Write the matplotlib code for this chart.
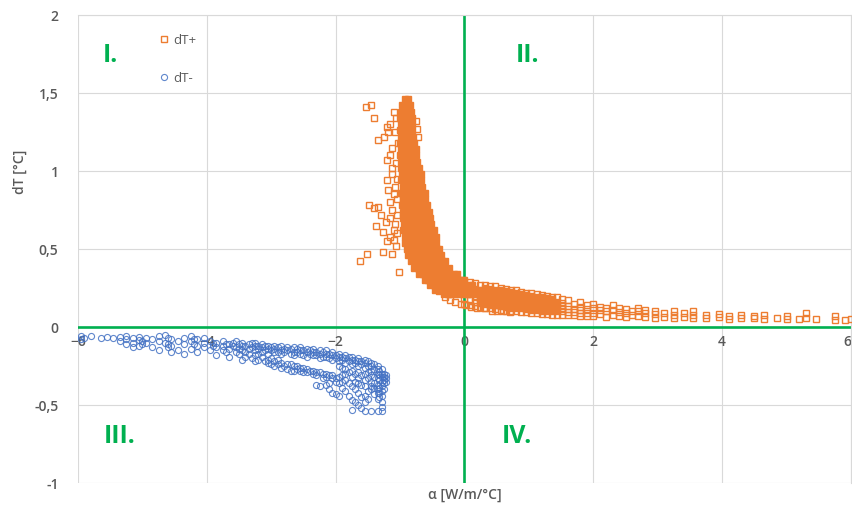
import matplotlib
matplotlib.use("Agg")
import matplotlib.pyplot as plt

# dT+ : dense core of the cloud, read row by row (dT level -> alpha values)
core_dT = [1.46, 1.42, 1.38, 1.34, 1.30, 1.26, 1.22, 1.18, 1.14, 1.10, 1.06,
           1.02, 0.98, 0.94, 0.90, 0.86, 0.82, 0.78, 0.74, 0.70, 0.66, 0.62,
           0.58, 0.54, 0.50, 0.46, 0.42, 0.38, 0.34, 0.30, 0.27, 0.24, 0.21]
core_alpha = [
    [-0.92, -0.87],
    [-0.97, -0.91, -0.85],
    [-0.99, -0.93, -0.87, -0.83],
    [-1.00, -0.94, -0.88, -0.82],
    [-0.98, -0.92, -0.86, -0.81],
    [-1.00, -0.94, -0.88, -0.82],
    [-0.98, -0.92, -0.86, -0.80],
    [-1.00, -0.94, -0.88, -0.82, -0.78],
    [-0.98, -0.92, -0.86, -0.80, -0.76],
    [-1.00, -0.94, -0.88, -0.82, -0.76],
    [-0.98, -0.92, -0.86, -0.80, -0.74],
    [-0.99, -0.93, -0.87, -0.81, -0.75, -0.70],
    [-0.97, -0.91, -0.85, -0.79, -0.73, -0.68],
    [-0.98, -0.92, -0.86, -0.80, -0.74, -0.68],
    [-0.96, -0.90, -0.84, -0.78, -0.72, -0.66],
    [-0.98, -0.92, -0.86, -0.80, -0.74, -0.68, -0.62],
    [-0.96, -0.90, -0.84, -0.78, -0.72, -0.66, -0.61],
    [-0.97, -0.91, -0.85, -0.79, -0.73, -0.67, -0.61, -0.58],
    [-0.95, -0.89, -0.83, -0.77, -0.71, -0.65, -0.59, -0.55],
    [-0.96, -0.90, -0.84, -0.78, -0.72, -0.66, -0.60, -0.54],
    [-0.94, -0.88, -0.82, -0.76, -0.70, -0.64, -0.58, -0.52],
    [-0.95, -0.89, -0.83, -0.77, -0.71, -0.65, -0.59, -0.53, -0.48],
    [-0.93, -0.87, -0.81, -0.75, -0.69, -0.63, -0.57, -0.51, -0.45],
    [-0.92, -0.86, -0.80, -0.74, -0.68, -0.62, -0.56, -0.50, -0.44],
    [-0.90, -0.84, -0.78, -0.72, -0.66, -0.60, -0.54, -0.48, -0.42, -0.39],
    [-0.87, -0.81, -0.75, -0.69, -0.63, -0.57, -0.51, -0.45, -0.39, -0.36],
    [-0.83, -0.77, -0.71, -0.65, -0.59, -0.53, -0.47, -0.41, -0.35, -0.30],
    [-0.78, -0.72, -0.66, -0.60, -0.54, -0.48, -0.42, -0.36, -0.30, -0.24],
    [-0.70, -0.64, -0.58, -0.52, -0.46, -0.40, -0.34, -0.28, -0.22, -0.16, -0.12],
    [-0.62, -0.56, -0.50, -0.44, -0.38, -0.32, -0.26, -0.20, -0.14, -0.08, -0.02],
    [-0.54, -0.48, -0.42, -0.36, -0.30, -0.24, -0.18, -0.12, -0.06, 0.00, 0.06, 0.12],
    [-0.46, -0.40, -0.34, -0.28, -0.22, -0.16, -0.10, -0.04, 0.02, 0.08, 0.14, 0.20, 0.26],
    [-0.32, -0.26, -0.20, -0.14, -0.08, -0.02, 0.04, 0.10, 0.16, 0.22, 0.28, 0.34, 0.40],
]

# dT+ : tail towards positive alpha, read column by column (alpha -> dT values)
tail_alpha = [0.00, 0.08, 0.16, 0.24, 0.32, 0.40, 0.48, 0.56, 0.64, 0.72, 0.80,
              0.88, 0.96, 1.04, 1.12, 1.20, 1.28, 1.36, 1.44, 1.52, 1.60, 1.70,
              1.80, 1.90, 2.00, 2.10, 2.20, 2.30, 2.40, 2.50, 2.60, 2.70, 2.80,
              2.95, 3.10, 3.25, 3.40, 3.55, 3.75, 3.95, 4.10, 4.30, 4.50, 4.65,
              4.85, 5.00, 5.20, 5.30, 5.45, 5.75, 5.90, 6.00]
tail_dT = [
    [0.15, 0.18, 0.30],
    [0.14, 0.17, 0.29],
    [0.135, 0.16, 0.19, 0.28],
    [0.13, 0.155, 0.18, 0.205, 0.27],
    [0.125, 0.15, 0.175, 0.20, 0.225, 0.25, 0.27],
    [0.12, 0.145, 0.17, 0.195, 0.22, 0.245, 0.265],
    [0.115, 0.14, 0.165, 0.19, 0.215, 0.24, 0.26],
    [0.11, 0.135, 0.16, 0.185, 0.21, 0.235, 0.25],
    [0.105, 0.13, 0.155, 0.18, 0.205, 0.23, 0.245],
    [0.10, 0.125, 0.15, 0.175, 0.20, 0.225, 0.24],
    [0.10, 0.12, 0.145, 0.17, 0.195, 0.22, 0.235],
    [0.095, 0.12, 0.14, 0.165, 0.19, 0.21, 0.225],
    [0.095, 0.115, 0.135, 0.16, 0.185, 0.205, 0.22],
    [0.09, 0.11, 0.135, 0.155, 0.18, 0.20, 0.215],
    [0.09, 0.11, 0.13, 0.15, 0.175, 0.195, 0.21],
    [0.085, 0.105, 0.125, 0.15, 0.17, 0.19, 0.205],
    [0.085, 0.105, 0.125, 0.145, 0.165, 0.185, 0.20],
    [0.08, 0.10, 0.12, 0.14, 0.16, 0.18, 0.195],
    [0.08, 0.10, 0.12, 0.14, 0.16, 0.19],
    [0.08, 0.10, 0.12, 0.135, 0.155, 0.18],
    [0.075, 0.095, 0.115, 0.135, 0.17],
    [0.075, 0.095, 0.115, 0.15],
    [0.07, 0.09, 0.11, 0.13, 0.16],
    [0.07, 0.09, 0.115, 0.14],
    [0.07, 0.09, 0.12, 0.15],
    [0.085, 0.11, 0.13],
    [0.065, 0.10, 0.12],
    [0.08, 0.11, 0.14],
    [0.07, 0.095, 0.12],
    [0.065, 0.09, 0.115],
    [0.08, 0.105],
    [0.07, 0.10, 0.12],
    [0.065, 0.09, 0.11],
    [0.06, 0.085, 0.105],
    [0.065, 0.09],
    [0.06, 0.08, 0.10],
    [0.065, 0.09],
    [0.06, 0.08, 0.10],
    [0.06, 0.075],
    [0.065, 0.085],
    [0.05, 0.07],
    [0.06, 0.08],
    [0.055, 0.07],
    [0.05, 0.075],
    [0.06],
    [0.05, 0.07],
    [0.05],
    [0.09, 0.06],
    [0.05],
    [0.045, 0.07],
    [0.045],
    [0.05],
]

# dT+ : isolated points around the cloud
stray_alpha = [-1.53, -1.45, -1.40, -1.35, -1.21, -1.18, -1.25, -1.15, -1.21, -1.15,
               -1.20, -1.13, -1.18, -1.10, -1.15, -1.48, -1.40, -1.35, -1.30, -1.37,
               -1.27, -1.22, -1.15, -1.10, -1.63, -1.51, -1.27, -1.13, -1.07, -1.01,
               -1.10, -1.20, -0.76, -0.74, -0.72, -0.60, -0.39, -0.30, -0.22, -0.14,
               -0.06, 0.02, 0.10, 0.20, 0.30, 0.43, 0.50, 0.60, 0.70,
               -1.08, -1.12, -1.07, -1.12, -1.05, -1.08, -1.05, -1.12, -1.05, -1.08,
               -1.05, -1.15, -1.04, -1.06, -1.10]
stray_dT = [1.41, 1.42, 1.34, 1.20, 1.28, 1.25, 1.22, 1.30, 1.07, 1.10,
            0.94, 0.98, 0.88, 0.85, 0.80, 0.78, 0.76, 0.77, 0.72, 0.65,
            0.61, 0.67, 0.70, 0.62, 0.42, 0.47, 0.48, 0.47, 0.52, 0.35,
            0.56, 0.55, 1.32, 1.27, 1.22, 0.76, 0.23, 0.19, 0.17, 0.16,
            0.15, 0.14, 0.13, 0.125, 0.12, 0.10, 0.105, 0.10, 0.095,
            1.25, 1.15, 1.05, 1.02, 0.95, 0.90, 0.82, 0.75, 0.72, 0.66,
            0.60, 0.58, 1.18, 1.34, 1.38]

# dT- : read column by column (alpha -> dT values)
neg_alpha = [-5.95, -5.90, -5.65, -5.55, -5.45, -5.35, -5.25, -5.15, -5.05, -4.95,
             -4.85, -4.75, -4.65, -4.55, -4.45, -4.35, -4.25, -4.15, -4.05, -3.95,
             -3.85, -3.75, -3.65, -3.55, -3.45, -3.35, -3.25, -3.15, -3.05, -2.95,
             -2.85, -2.75, -2.65, -2.55, -2.45, -2.35, -2.25, -2.15, -2.05, -1.95,
             -1.85, -1.75, -1.65, -1.55, -1.45, -1.35, -1.28, -1.22]
neg_dT = [
    [-0.06, -0.08],
    [-0.07],
    [-0.07],
    [-0.065],
    [-0.07],
    [-0.065, -0.09],
    [-0.06, -0.08, -0.11],
    [-0.07, -0.10, -0.13],
    [-0.065, -0.085, -0.12],
    [-0.07, -0.10],
    [-0.08, -0.13],
    [-0.06, -0.09, -0.15],
    [-0.05, -0.10],
    [-0.08, -0.12, -0.16],
    [-0.09, -0.15],
    [-0.07, -0.11, -0.17],
    [-0.06, -0.09, -0.14],
    [-0.08, -0.12, -0.16],
    [-0.07, -0.10, -0.13],
    [-0.09, -0.15],
    [-0.10, -0.13, -0.18],
    [-0.09, -0.12, -0.15],
    [-0.11, -0.14, -0.19],
    [-0.09, -0.13, -0.16],
    [-0.10, -0.12, -0.15, -0.21],
    [-0.11, -0.14, -0.17],
    [-0.10, -0.12, -0.15, -0.18, -0.22],
    [-0.11, -0.13, -0.16, -0.19],
    [-0.12, -0.14, -0.17, -0.21, -0.23],
    [-0.12, -0.14, -0.16, -0.22, -0.25],
    [-0.12, -0.15, -0.17, -0.23, -0.26],
    [-0.13, -0.15, -0.24, -0.27],
    [-0.13, -0.16, -0.18, -0.25, -0.28],
    [-0.13, -0.15, -0.17, -0.26, -0.28],
    [-0.14, -0.16, -0.19, -0.27, -0.29],
    [-0.14, -0.16, -0.18, -0.28, -0.30],
    [-0.15, -0.17, -0.20, -0.29, -0.38],
    [-0.15, -0.17, -0.19, -0.30, -0.32, -0.37],
    [-0.16, -0.18, -0.21, -0.31, -0.33, -0.42],
    [-0.17, -0.19, -0.22, -0.25, -0.32, -0.36, -0.44],
    [-0.18, -0.20, -0.23, -0.27, -0.30, -0.34, -0.41],
    [-0.19, -0.21, -0.24, -0.28, -0.32, -0.38, -0.47, -0.53],
    [-0.20, -0.22, -0.25, -0.29, -0.33, -0.36, -0.42, -0.50],
    [-0.21, -0.23, -0.26, -0.30, -0.34, -0.38, -0.44, -0.48, -0.54],
    [-0.23, -0.25, -0.28, -0.31, -0.35, -0.38, -0.40, -0.54],
    [-0.25, -0.27, -0.30, -0.33, -0.37, -0.40, -0.42, -0.46, -0.54],
    [-0.27, -0.30, -0.32, -0.35, -0.38, -0.41, -0.44, -0.48, -0.51, -0.54],
    [-0.31, -0.33, -0.35],
]

# dT- : second pass of points between the columns above
neg_alpha_b = [-5.80, -5.00, -4.60, -4.20, -3.90, -3.70, -3.60, -3.50, -3.40, -3.30,
               -3.20, -3.10, -3.00, -2.90, -2.80, -2.70, -2.60, -2.50, -2.40, -2.30,
               -2.20, -2.10, -2.00, -1.90, -1.80, -1.70, -1.60, -1.50, -1.40, -1.32,
               -1.25]
neg_dT_b = [
    [-0.06],
    [-0.09, -0.11],
    [-0.07, -0.11, -0.13],
    [-0.08, -0.11],
    [-0.10, -0.12],
    [-0.11, -0.16],
    [-0.10, -0.12],
    [-0.11, -0.14, -0.17],
    [-0.12, -0.16, -0.19],
    [-0.10, -0.13, -0.20],
    [-0.12, -0.14, -0.17, -0.21],
    [-0.12, -0.15, -0.22],
    [-0.13, -0.15, -0.20, -0.24],
    [-0.13, -0.16, -0.21, -0.24],
    [-0.14, -0.16, -0.25],
    [-0.14, -0.17, -0.24, -0.28],
    [-0.14, -0.16, -0.25, -0.27],
    [-0.15, -0.18, -0.26, -0.29],
    [-0.15, -0.17, -0.28],
    [-0.16, -0.18, -0.29, -0.31, -0.37],
    [-0.16, -0.19, -0.30, -0.33],
    [-0.17, -0.20, -0.31, -0.36, -0.40],
    [-0.18, -0.20, -0.33, -0.35, -0.43],
    [-0.19, -0.21, -0.26, -0.31, -0.35, -0.39],
    [-0.19, -0.22, -0.29, -0.36, -0.44],
    [-0.21, -0.23, -0.30, -0.35, -0.40, -0.48],
    [-0.22, -0.24, -0.31, -0.37, -0.45, -0.52],
    [-0.22, -0.25, -0.29, -0.33, -0.41, -0.46],
    [-0.24, -0.27, -0.32, -0.36, -0.39, -0.43],
    [-0.28, -0.31, -0.34, -0.39, -0.42, -0.45],
    [-0.30, -0.32, -0.34, -0.36, -0.40],
]

x_ticks = [-6, -4, -2, 0, 2, 4, 6]
y_ticks = [-1, -0.5, 0, 0.5, 1, 1.5, 2]
y_tick_labels = ['-1', '-0,5', '0', '0,5', '1', '1,5', '2']
quadrants = ['I.', 'II.', 'III.', 'IV.']
quad_pos = [(-5.5, 1.74), (0.98, 1.74), (-5.36, -0.70), (0.82, -0.70)]

ORANGE = '#ED7D31'
BLUE = '#4472C4'
GREEN = '#00B050'
GREY = '#595959'
GRID = '#D9D9D9'

plt.rcParams['font.family'] = ['Open Sans', 'DejaVu Sans']

fig = plt.figure(figsize=(8.53, 5.11), dpi=100)
ax = fig.add_axes([78 / 853, 1 - 483 / 511, 773 / 853, 468 / 511])

# flatten the row/column tables into point lists
# where the cloud is so dense that the reference shows solid orange, the
# squares get filled; the sparse edges stay hollow
dense_x, dense_y = [], []
for y, row in zip(core_dT, core_alpha):
    dense_x += row
    dense_y += [y] * len(row)
pos_x, pos_y = [], []
for x, col in zip(tail_alpha, tail_dT):
    if x <= 1.5 and len(col) > 4:
        dense_x += [x] * (len(col) - 2)
        dense_y += col[1:-1]
        pos_x += [x, x]
        pos_y += [col[0], col[-1]]
    else:
        pos_x += [x] * len(col)
        pos_y += col
pos_x += stray_alpha
pos_y += stray_dT

neg_x, neg_y = [], []
for xs, cols in [(neg_alpha, neg_dT), (neg_alpha_b, neg_dT_b)]:
    for x, col in zip(xs, cols):
        neg_x += [x] * len(col)
        neg_y += col

ax.axhline(0, color=GREEN, lw=1.9, zorder=1)
ax.axvline(0, color=GREEN, lw=1.9, zorder=1)

ax.plot(pos_x, pos_y, ls='none', marker='s', ms=4.6, mfc='none', mec=ORANGE,
        mew=1.0, label='dT+', zorder=3)
ax.plot(dense_x, dense_y, ls='none', marker='s', ms=4.6, mfc=ORANGE, mec=ORANGE,
        mew=1.0, zorder=3)
ax.plot(neg_x, neg_y, ls='none', marker='o', ms=4.4, mfc='none', mec=BLUE,
        mew=0.8, alpha=0.85, label='dT-', zorder=3)

ax.set_xlim(-6, 6)
ax.set_ylim(-1, 2)
ax.set_xticks(x_ticks)
ax.set_yticks(y_ticks)
ax.set_yticklabels(y_tick_labels)
ax.grid(True, color=GRID, lw=0.8)
ax.set_axisbelow(True)

# x tick labels sit on the zero line, Excel style
ax.spines['bottom'].set_position(('data', 0))
ax.spines['bottom'].set_visible(False)
ax.spines['left'].set_visible(False)
for s in ['top', 'right']:
    ax.spines[s].set_color(GRID)
    ax.spines[s].set_linewidth(0.8)
ax.tick_params(length=0, colors=GREY, labelsize=10)
ax.tick_params(axis='x', pad=6)
ax.tick_params(axis='y', pad=14)
for lab in ax.get_xticklabels() + ax.get_yticklabels():
    lab.set_fontweight('semibold')
ax.get_xticklabels()[-1].set_horizontalalignment('right')

for txt, (qx, qy) in zip(quadrants, quad_pos):
    ax.text(qx, qy, txt, color=GREEN, fontsize=18, fontweight='bold',
            ha='center', va='center')

ax.set_ylabel('dT [°C]', color=GREY, fontsize=10, fontweight='semibold')
ax.yaxis.set_label_coords(-0.066, 0.665)
fig.text(465 / 853, 1 - 495 / 511, 'α [W/m/°C]', color=GREY, fontsize=10,
         fontweight='semibold', ha='center', va='center')

leg = ax.legend(loc='upper left', bbox_to_anchor=(0.088, 0.985), frameon=False,
                fontsize=9.5, labelspacing=1.9, handletextpad=0.2,
                handlelength=1.0, markerscale=1.0)
for t in leg.get_texts():
    t.set_color(GREY)

fig.savefig('out.png', dpi=100)
